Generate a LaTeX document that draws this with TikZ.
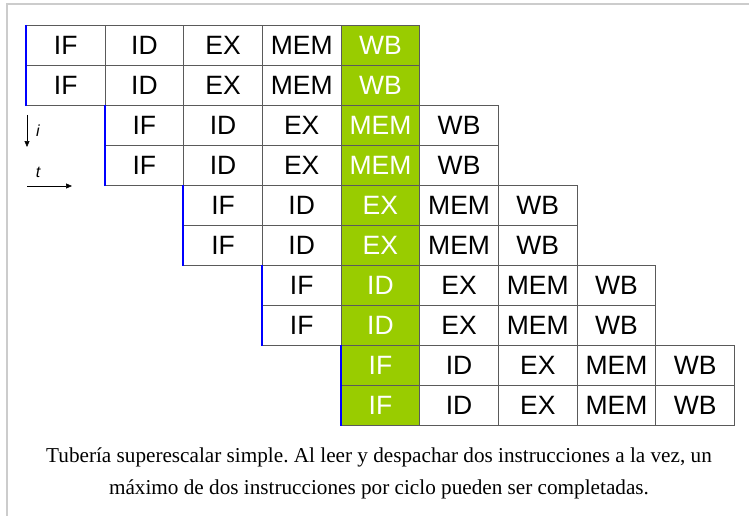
\documentclass[tikz,border=0pt]{standalone}
\usepackage{fontspec}
\setmainfont{Liberation Serif}
\setsansfont{Liberation Sans}
\usetikzlibrary{arrows.meta}
\definecolor{wbgreen}{HTML}{99CC00}
\definecolor{cellline}{HTML}{5A5A5A}
\definecolor{framegray}{HTML}{CCCCCC}
\tikzset{
  cell/.style={draw=cellline, line width=0.8pt, rectangle, minimum width=78.67pt, minimum height=40pt,
    inner sep=0pt, font=\sffamily\fontsize{26.5}{26.5}\selectfont, anchor=north west},
  hotcell/.style={cell, fill=wbgreen, text=white},
  issue/.style={draw=blue, line width=2pt},
  axis/.style={draw=black, line width=0.6pt, -{Triangle[length=6pt,width=5pt]}},
  axislabel/.style={font=\sffamily\itshape\fontsize{16}{16}\selectfont, inner sep=0pt},
  caption/.style={font=\frenchspacing\fontsize{21.2}{32}\selectfont, align=center, inner sep=0pt}
}
\begin{document}
\begin{tikzpicture}[x=1pt,y=-1pt]
\useasboundingbox (0,0) rectangle (749,516);
\fill[white] (0,0) rectangle (749,516);
\draw[framegray, line width=1.5pt] (749,4) -- (7,4) -- (7,516);
\foreach \r in {0,...,9} {
  \pgfmathtruncatemacro{\p}{int(\r/2)}
  \foreach \s [count=\k from 0] in {IF,ID,EX,MEM,WB} {
    \pgfmathtruncatemacro{\c}{\p+\k}
    \pgfmathsetmacro{\xx}{26+78.67*\c}
    \pgfmathsetmacro{\yy}{25+40*\r}
    \ifnum\c=4
      \node[hotcell] (c-\r-\c) at (\xx,\yy) {\s};
    \else
      \node[cell] (c-\r-\c) at (\xx,\yy) {\s};
    \fi
  }
}
\foreach \p in {0,...,4} {
  \pgfmathtruncatemacro{\ra}{2*\p}
  \pgfmathtruncatemacro{\rb}{2*\p+1}
  \draw[issue] (c-\ra-\p.north west) -- (c-\rb-\p.south west);
}
\coordinate (ia) at (27,115);
\coordinate (ib) at (27,147);
\coordinate (ta) at (27,186);
\coordinate (tb) at (72,186);
\draw[axis] (ia) -- (ib);
\draw[axis] (ta) -- (tb);
\node[axislabel] (il) at (38,131) {i};
\node[axislabel] (tl) at (38,172) {t};
\node[caption] (cap) at (379,473) {Tubería superescalar simple. Al leer y despachar dos instrucciones a la vez, un\\máximo de dos instrucciones por ciclo pueden ser completadas.};
\end{tikzpicture}
\end{document}
